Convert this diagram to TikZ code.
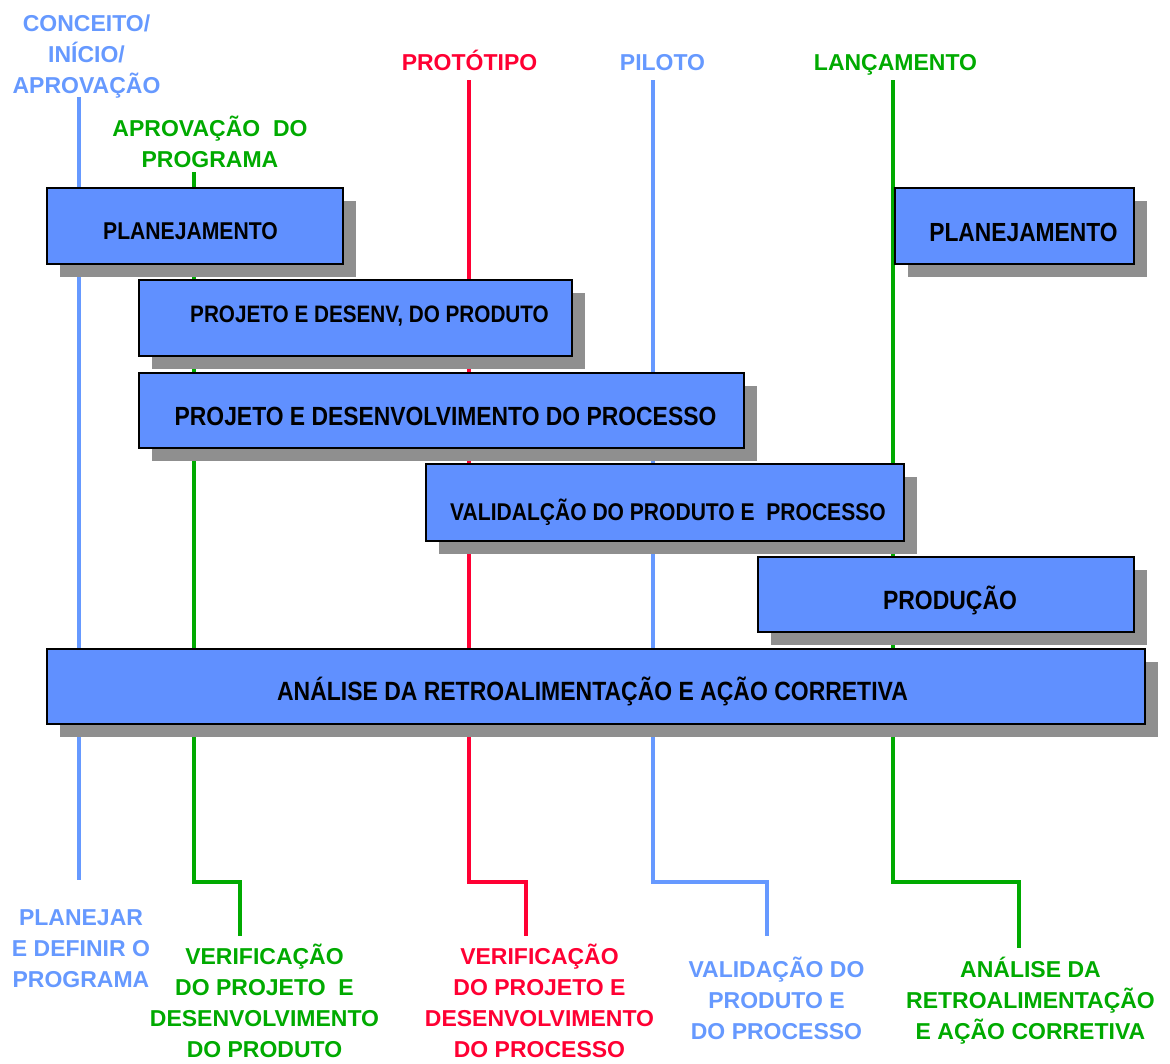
\documentclass[tikz,border=0pt]{standalone}
\usepackage{fontspec}
\setmainfont{Liberation Sans}
\newfontfamily\bandfont{Liberation Sans}[FakeStretch=0.87]
\usetikzlibrary{shadows}
\definecolor{phaseblue}{HTML}{6090FF}
\definecolor{lblue}{HTML}{6699FF}
\definecolor{mred}{HTML}{FF0033}
\definecolor{mgreen}{HTML}{00AA00}
\definecolor{shgray}{HTML}{8F8F8F}
\newcommand{\stk}[1]{\begin{tabular}[t]{@{}c@{}}#1\end{tabular}}
\begin{document}
\begin{tikzpicture}[x=1pt,y=-1pt,
  track/.style={line width=3.5pt, line join=miter},
  milestone/.style={inner sep=0pt, anchor=base, font=\bfseries\fontsize{23}{31}\selectfont},
  phase/.style={draw=black, line width=2pt, fill=phaseblue, inner sep=0pt, anchor=north west,
    drop shadow={shadow xshift=12.5pt, shadow yshift=-12.5pt, fill=shgray, opacity=1}},
  phasetext/.style={inner sep=0pt, anchor=base, text=black},
]
\useasboundingbox (0,0) rectangle (1170,1063);

% milestone labels, top
\node[milestone, text=lblue]  (conceito) at (86.5,31) {\stk{CONCEITO/\\INÍCIO/\\APROVAÇÃO}};
\node[milestone, text=mgreen] (aprov)    at (210,136) {\stk{APROVAÇÃO~ DO\\PROGRAMA}};
\node[milestone, text=mred]   (proto)    at (469.5,70) {PROTÓTIPO};
\node[milestone, text=lblue]  (piloto)   at (662.5,70) {PILOTO};
\node[milestone, text=mgreen] (lanc)     at (895.5,70) {LANÇAMENTO};

% outcome labels, bottom
\node[milestone, text=lblue]  (planejar) at (81,925) {\stk{PLANEJAR\\E DEFINIR O\\PROGRAMA}};
\node[milestone, text=mgreen] (verprod)  at (264.5,964) {\stk{VERIFICAÇÃO\\DO PROJETO~ E\\DESENVOLVIMENTO\\DO PRODUTO}};
\node[milestone, text=mred]   (verproc)  at (539.5,964) {\stk{VERIFICAÇÃO\\DO PROJETO E\\DESENVOLVIMENTO\\DO PROCESSO}};
\node[milestone, text=lblue]  (valprod)  at (776.5,977) {\stk{VALIDAÇÃO DO\\PRODUTO E\\DO PROCESSO}};
\node[milestone, text=mgreen] (feedback) at (1030.5,977) {\stk{ANÁLISE DA\\RETROALIMENTAÇÃO\\E AÇÃO CORRETIVA}};

% end points of the milestone tracks
\coordinate (t1) at (79,97);   \coordinate (b1) at (79,880);
\coordinate (t2) at (194,172); \coordinate (j2) at (240,882); \coordinate (b2) at (240,936);
\coordinate (t3) at (469,80);  \coordinate (j3) at (526,882); \coordinate (b3) at (526,936);
\coordinate (t4) at (653,80);  \coordinate (j4) at (767,882); \coordinate (b4) at (767,936);
\coordinate (t5) at (893,80);  \coordinate (j5) at (1019,882); \coordinate (b5) at (1019,948);

% milestone tracks (behind the phase bars)
\draw[track, lblue]  (t1) -- (b1);
\draw[track, mgreen] (t2) |- (j2) -- (b2);
\draw[track, mred]   (t3) |- (j3) -- (b3);
\draw[track, lblue]  (t4) |- (j4) -- (b4);
\draw[track, mgreen] (t5) |- (j5) -- (b5);

% phase bars
\node[phase, minimum width=296pt,  minimum height=76pt] (plan1)    at (46,187)  {};
\node[phase, minimum width=239pt,  minimum height=76pt] (plan2)    at (894,187) {};
\node[phase, minimum width=433pt,  minimum height=76pt] (projprod) at (138,279) {};
\node[phase, minimum width=605pt,  minimum height=75pt] (projproc) at (138,372) {};
\node[phase, minimum width=478pt,  minimum height=77pt] (valid)    at (425,463) {};
\node[phase, minimum width=376pt,  minimum height=75pt] (producao) at (757,556) {};
\node[phase, minimum width=1098pt, minimum height=75pt] (analise)  at (46,648)  {};

% phase titles
\node[phasetext, font=\bandfont\bfseries\fontsize{24.3}{26}\selectfont] (tplan1) at (190.5,239) {PLANEJAMENTO};
\node[phasetext, font=\bandfont\bfseries\fontsize{26.2}{28}\selectfont] (tplan2) at (1023.5,241) {PLANEJAMENTO};
\node[phasetext, font=\bandfont\bfseries\fontsize{23.8}{26}\selectfont] (tprod)  at (369.5,322) {PROJETO E DESENV, DO PRODUTO};
\node[phasetext, font=\bandfont\bfseries\fontsize{26.3}{28}\selectfont] (tproc)  at (445.5,425) {PROJETO E DESENVOLVIMENTO DO PROCESSO};
\node[phasetext, font=\bandfont\bfseries\fontsize{24.2}{26}\selectfont] (tvalid) at (668,520) {VALIDALÇÃO DO PRODUTO E~ PROCESSO};
\node[phasetext, font=\bandfont\bfseries\fontsize{26.4}{28}\selectfont] (tprodc) at (950,609) {PRODUÇÃO};
\node[phasetext, font=\bandfont\bfseries\fontsize{26.4}{28}\selectfont] (tanal)  at (592.5,700) {ANÁLISE DA RETROALIMENTAÇÃO E AÇÃO CORRETIVA};
\end{tikzpicture}
\end{document}
